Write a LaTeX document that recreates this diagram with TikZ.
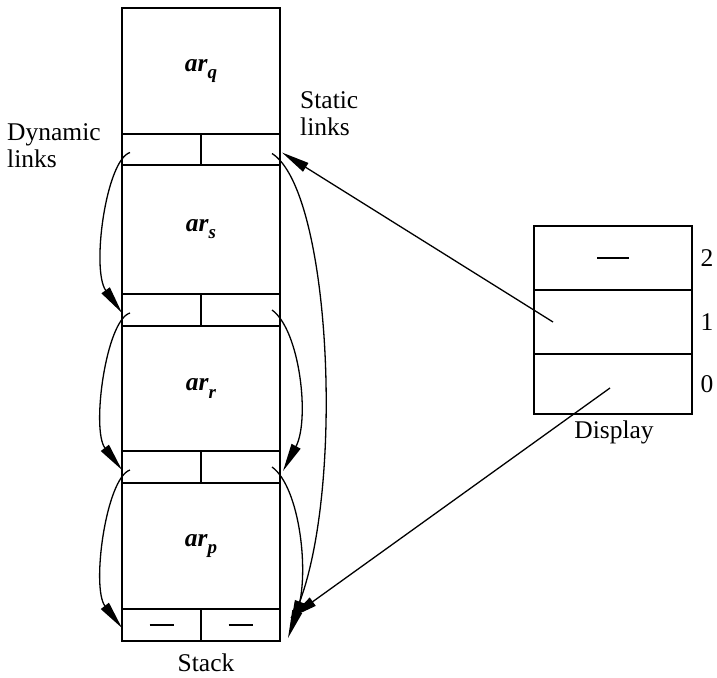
\documentclass[tikz,border=0pt]{standalone}
\usepackage{fontspec}
\setmainfont{Liberation Serif}
\usetikzlibrary{arrows.meta}
\newcommand{\arlab}[1]{\textbf{\textit{ar}}\raisebox{-0.28em}{\fontsize{19}{19}\selectfont\textbf{\textit{#1}}}}
\begin{document}
\begin{tikzpicture}[x=1pt,y=-1pt,
  font=\fontsize{25.5}{28}\selectfont,
  cell/.style={draw, line width=1.9pt, inner sep=0pt, outer sep=0pt, minimum width=79pt, minimum height=32pt},
  big/.style={cell, minimum width=158pt},
  lnk/.style={line width=1.3pt, -{Triangle[length=28pt,width=10pt]}},
  dashmark/.style={line width=1.5pt},
  lbl/.style={inner sep=0pt, anchor=base west}]
\useasboundingbox (0,0) rectangle (717,677);
% stack
\node[big, minimum height=126pt] (arq) at (201,71) {\arlab{q}};
\node[cell, minimum height=31pt] (l1a) at (161.5,149.5) {};
\node[cell, minimum height=31pt] (l1b) at (240.5,149.5) {};
\node[big, minimum height=129pt] (ars) at (201,229.5) {\arlab{s}};
\node[cell] (l2a) at (161.5,310) {};
\node[cell] (l2b) at (240.5,310) {};
\node[big, minimum height=125pt] (arr) at (201,388.5) {\arlab{r}};
\node[cell] (l3a) at (161.5,467) {};
\node[cell] (l3b) at (240.5,467) {};
\node[big, minimum height=126pt] (arp) at (201,546) {\arlab{p}};
\node[cell] (l4a) at (161.5,625) {};
\node[cell] (l4b) at (240.5,625) {};
\draw[dashmark] ([xshift=-12pt]l4a.center) -- ([xshift=12pt]l4a.center);
\draw[dashmark] ([xshift=-12pt]l4b.center) -- ([xshift=12pt]l4b.center);
% display
\node[big, minimum height=64pt] (d2) at (613,258) {};
\node[big, minimum height=64pt] (d1) at (613,322) {};
\node[big, minimum height=60pt] (d0) at (613,384) {};
\draw[dashmark] ([xshift=-16pt]d2.center) -- ([xshift=16pt]d2.center);
\node (n2) at (707,258) {2};
\node (n1) at (707,322) {1};
\node (n0) at (707,384) {0};
\node[inner sep=0pt, anchor=base] (disp) at (614,438) {Display};
\node[inner sep=0pt, anchor=base] (stk) at (206,671) {Stack};
% labels
\node[lbl] (dyn1) at (7,140) {Dynamic};
\node[lbl] (dyn2) at (7,167) {links};
\node[lbl] (sta1) at (300,108) {Static};
\node[lbl] (sta2) at (300,135) {links};
% dynamic links
\draw[lnk] ([xshift=8pt,yshift=-3pt]l1a.west) .. controls (106,160) and (91,270) .. ([yshift=-3pt]l2a.west);
\draw[lnk] ([xshift=8pt,yshift=-3pt]l2a.west) .. controls (106,320) and (91,430) .. ([yshift=-3pt]l3a.west);
\draw[lnk] ([xshift=8pt,yshift=-3pt]l3a.west) .. controls (106,478) and (91,588) .. ([yshift=-3pt]l4a.west);
% static links
\draw[lnk] ([xshift=-8pt,yshift=-4pt]l1b.east) .. controls (330,190) and (345,480) .. ([xshift=10pt,yshift=-3pt]l4b.east);
\draw[lnk] ([xshift=-8pt]l2b.east) .. controls (300,330) and (310,420) .. ([xshift=3pt,yshift=-4pt]l3b.east);
\draw[lnk] ([xshift=-8pt]l3b.east) .. controls (300,487) and (310,575) .. ([xshift=8pt,yshift=-13pt]l4b.east);
% display pointers
\coordinate (p1) at (553,322);
\coordinate (p0) at (610,388);
\draw[lnk] (p1) -- ([xshift=2pt,yshift=-3pt]l1b.east);
\draw[lnk] (p0) -- ([xshift=10pt,yshift=7pt]l4b.east);
\end{tikzpicture}
\end{document}
